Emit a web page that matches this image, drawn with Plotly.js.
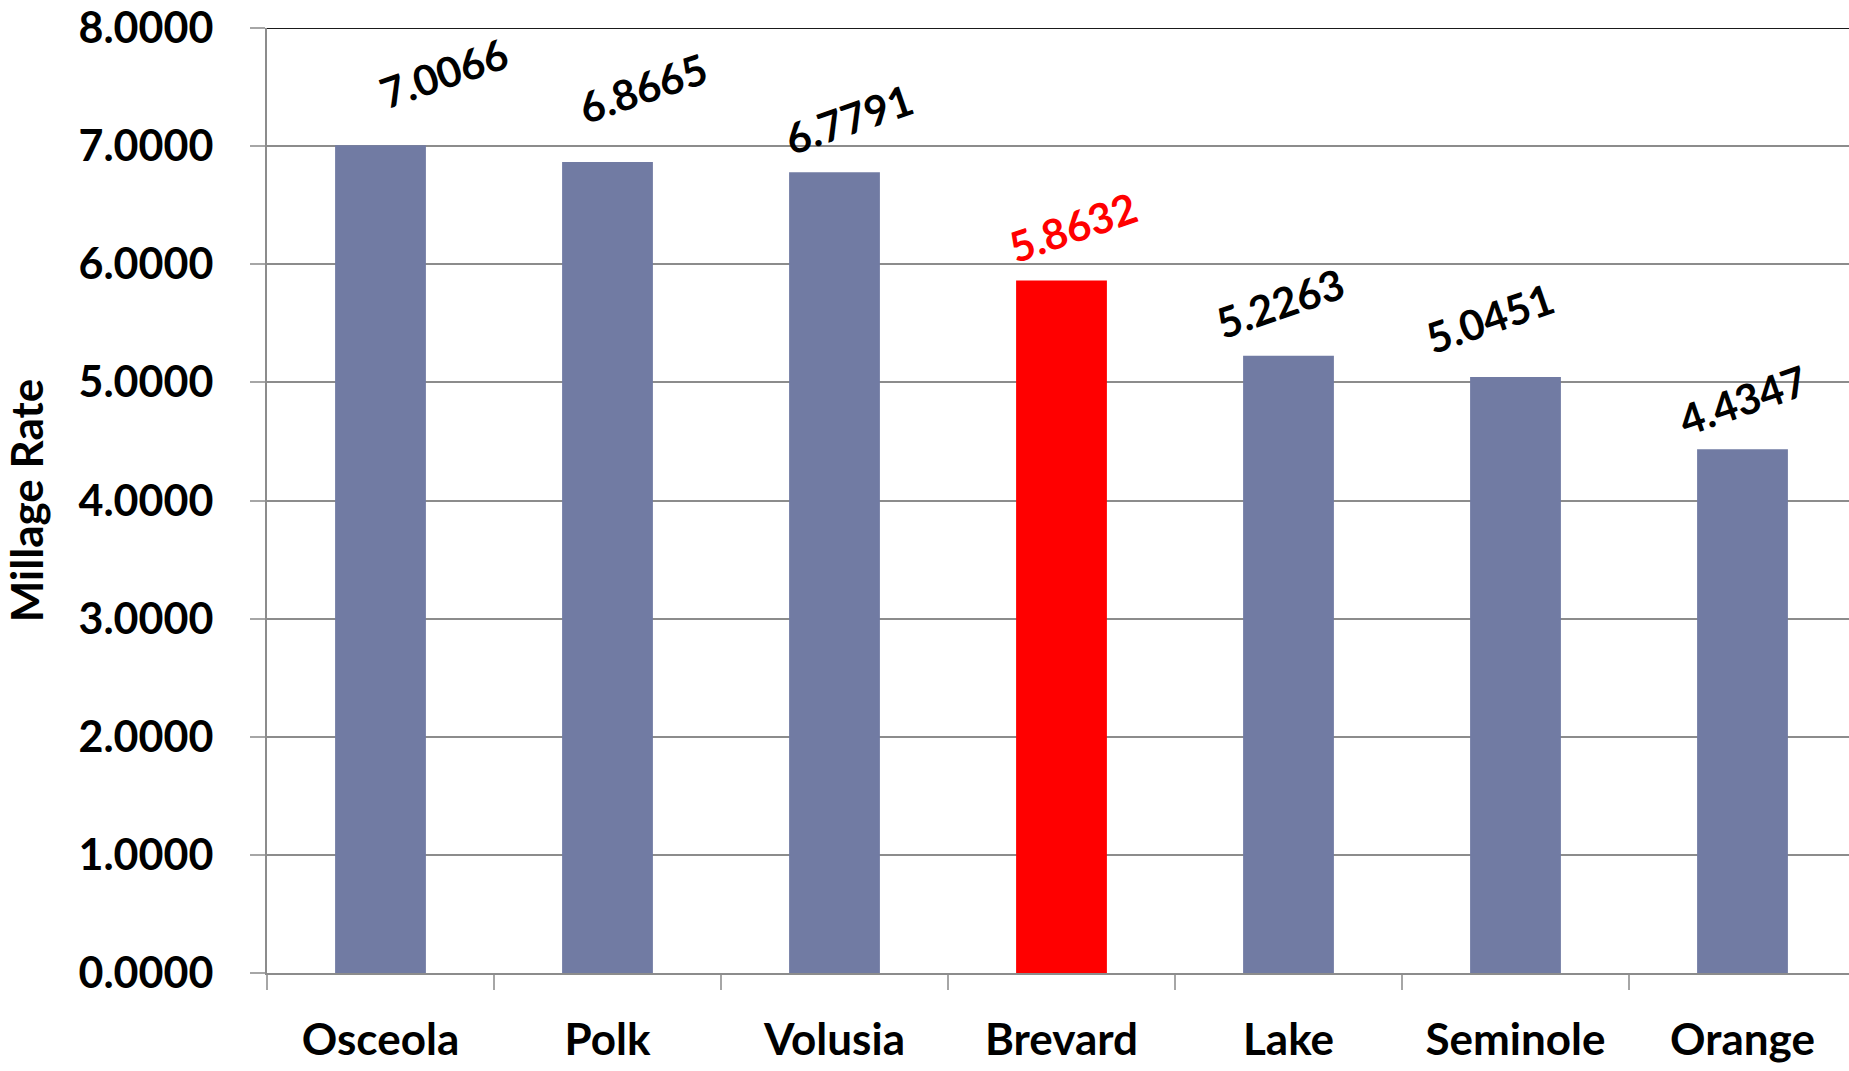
<!DOCTYPE html>
<html>
<head>
<meta charset="utf-8">
<script src="https://cdn.plot.ly/plotly-3.0.1.min.js"></script>
<style>
html, body { margin: 0; padding: 0; overflow: hidden; background: #fff; }
#chart { width: 1856px; height: 1071px; }
</style>
</head>
<body>
<div id="chart"></div>
<script>
// ---- data ----
const counties = ["Osceola", "Polk", "Volusia", "Brevard", "Lake", "Seminole", "Orange"];
const millage = [7.0066, 6.8665, 6.7791, 5.8632, 5.2263, 5.0451, 4.4347];
const highlight = "Brevard";
const yTickValues = [0, 1, 2, 3, 4, 5, 6, 7, 8];

// ---- styling ----
const baseColor = "#717BA3";
const highlightColor = "#FF0000";
const fontFamily = "Lato, 'Noto Sans', sans-serif";
// label nudges (pixels) to mimic the reference's rotated label placement
const labelDx = [63, 35, 14, 11, -9, -26, 0];
const labelDy = [72, 74, 53, 53, 53, 59, 49];

const barColors = counties.map(c => c === highlight ? highlightColor : baseColor);

const trace = {
  type: "bar",
  x: counties,
  y: millage,
  width: 0.4,
  marker: { color: barColors, line: { width: 0 } },
  hoverinfo: "x+y"
};

const annotations = counties.map((c, i) => ({
  x: c,
  y: millage[i],
  xref: "x",
  yref: "y",
  text: "<b>" + millage[i].toFixed(4) + "</b>",
  showarrow: false,
  textangle: -19,
  xanchor: "center",
  yanchor: "middle",
  xshift: labelDx[i],
  yshift: labelDy[i],
  font: { family: fontFamily, size: 42, color: c === highlight ? highlightColor : "#000000" }
}));

const layout = {
  width: 1856,
  height: 1071,
  margin: { l: 267, r: 0, t: 28, b: 98, pad: 0 },
  paper_bgcolor: "#ffffff",
  plot_bgcolor: "#ffffff",
  showlegend: false,
  bargap: 0.6,
  font: { family: fontFamily, color: "#000000" },
  xaxis: {
    type: "category",
    range: [-0.5, 6.5],
    showgrid: false,
    showline: true,
    linecolor: "#8c8c8c",
    linewidth: 2,
    ticks: "outside",
    tickson: "boundaries",
    ticklen: 15,
    tickwidth: 2,
    tickcolor: "#a6a6a6",
    ticklabelstandoff: 27,
    tickfont: { family: fontFamily, size: 44, color: "#000000", weight: "bold" },
    zeroline: false,
    fixedrange: true
  },
  yaxis: {
    range: [0, 8],
    tickvals: yTickValues,
    ticktext: yTickValues.map(v => v.toFixed(4)),
    showgrid: true,
    gridcolor: "#8c8c8c",
    gridwidth: 2,
    showline: true,
    linecolor: "#8c8c8c",
    linewidth: 2,
    ticks: "outside",
    ticklen: 15,
    tickwidth: 2,
    tickcolor: "#a6a6a6",
    ticklabelstandoff: 28,
    tickfont: { family: fontFamily, size: 43, color: "#000000", weight: "bold" },
    zeroline: false,
    fixedrange: true,
    title: {
      text: "Millage Rate",
      font: { family: fontFamily, size: 44, color: "#000000", weight: "bold" },
      standoff: 26
    }
  },
  shapes: [{
    type: "line",
    xref: "paper", yref: "y",
    x0: 0, x1: 1, y0: 8, y1: 8,
    line: { color: "#1a1a1a", width: 2 }
  }],
  annotations: annotations
};

Plotly.newPlot("chart", [trace], layout, { displayModeBar: false, staticPlot: true });
</script>
</body>
</html>
